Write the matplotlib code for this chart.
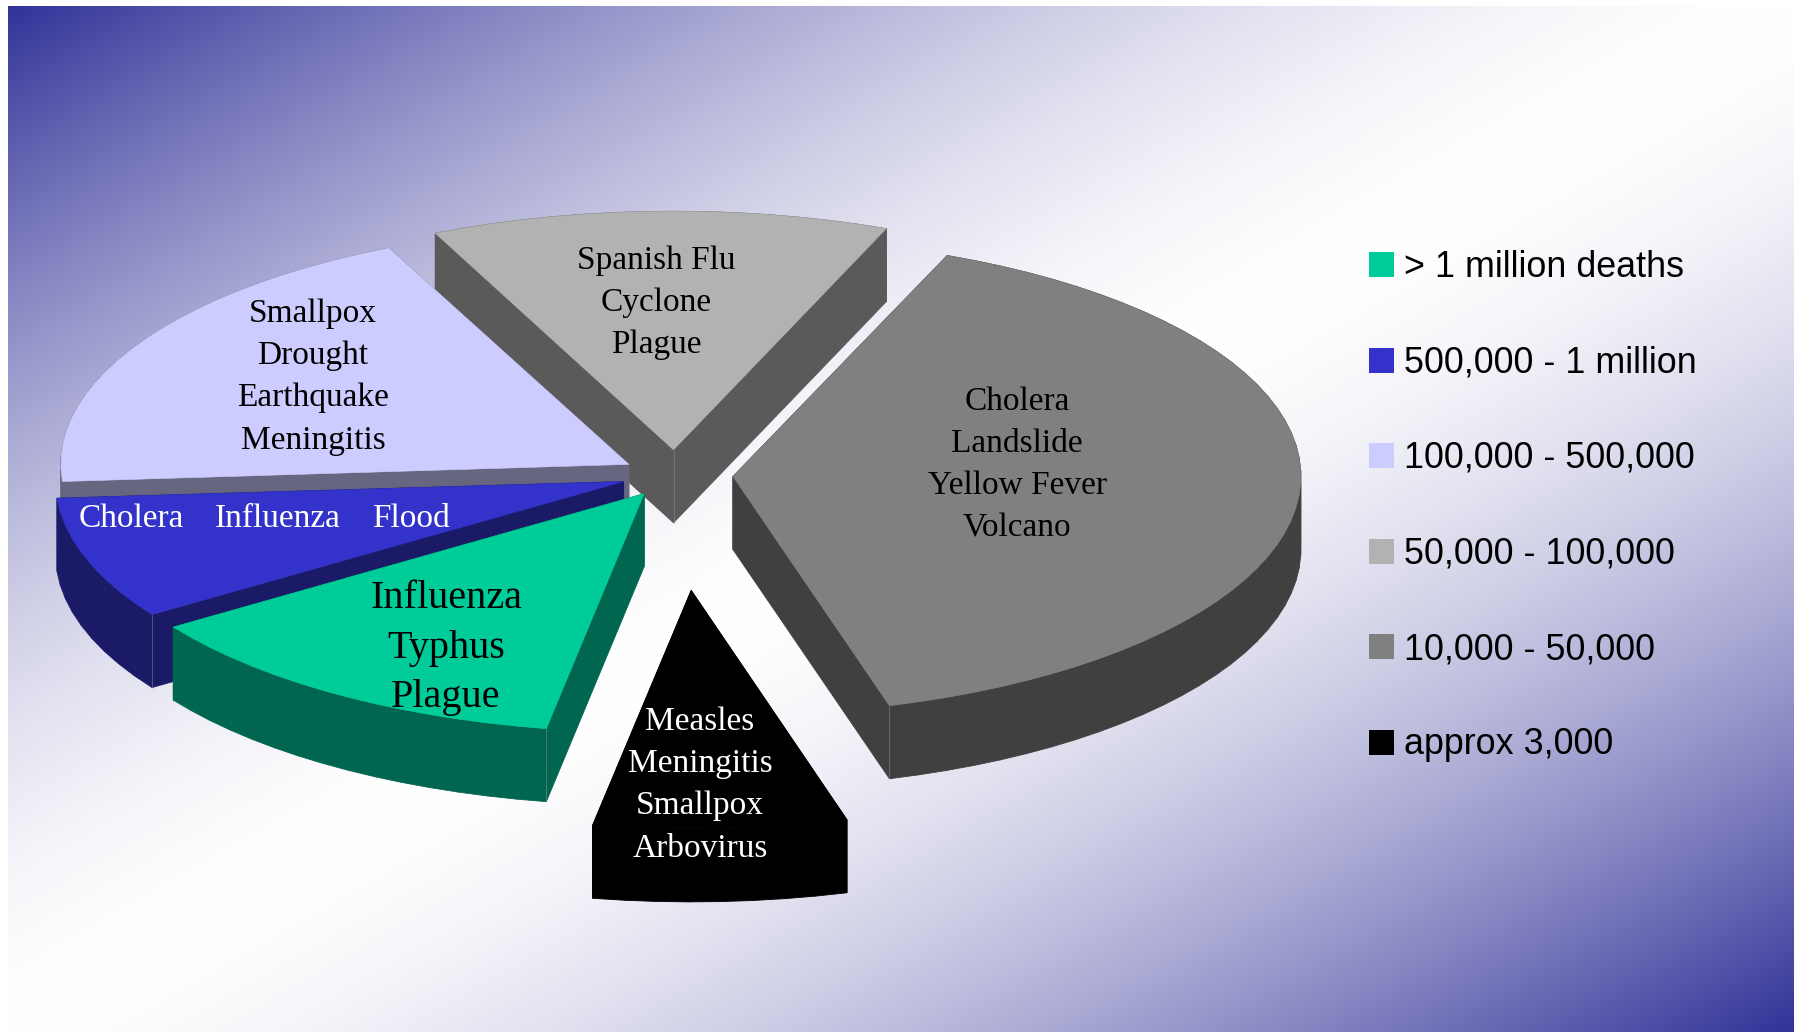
"""Exploded 3D style pie of disaster types by death toll, on a diagonal gradient."""

import matplotlib.pyplot as plt
import numpy as np
from matplotlib.patches import Polygon, Rectangle

WIDTH, HEIGHT = 1800, 1033

# share of the pie (percent), drawn back to front
slice_names = ["50,000 - 100,000", "100,000 - 500,000", "500,000 - 1 million",
               "10,000 - 50,000", "> 1 million deaths", "approx 3,000"]
slice_shares = [13.0, 19.2, 8.3, 39.4, 12.8, 7.2]
slice_explode = [60, 50, 48, 63, 53, 275]
slice_starts = [68.0, 115.0, 184.0, -74.0, 214.0, -100.0]
slice_nudge = [3, 0, -3, -2, 1, 5]

top_colors = ["#B2B2B2", "#CCCCFF", "#3333CC", "#808080", "#00CC99", "#000000"]
side_colors = ["#5A5A5A", "#666680", "#1A1A66", "#404040", "#006650", "#000000"]

legend_labels = ["> 1 million deaths", "500,000 - 1 million", "100,000 - 500,000",
                 "50,000 - 100,000", "10,000 - 50,000", "approx 3,000"]
legend_colors = ["#00CC99", "#3333CC", "#CCCCFF", "#B2B2B2", "#808080", "#000000"]

spanish_labels = ["Spanish Flu", "Cyclone", "Plague"]
smallpox_labels = ["Smallpox", "Drought", "Earthquake", "Meningitis"]
cholera_labels = ["Cholera", "Influenza", "Flood"]
gray_labels = ["Cholera", "Landslide", "Yellow Fever", "Volcano"]
green_labels = ["Influenza", "Typhus", "Plague"]
black_labels = ["Measles", "Meningitis", "Smallpox", "Arbovirus"]

CENTER_X, CENTER_Y = 672, 475
RADIUS = 568
FLATTEN = 0.42
DEPTH = 73
SERIF = ["Liberation Serif", "DejaVu Serif"]


def project(angle_deg, radius, explode, mid_deg, nudge):
    angle = np.radians(angle_deg)
    mid = np.radians(mid_deg)
    x = radius * np.cos(angle) + explode * np.cos(mid)
    y = radius * np.sin(angle) + explode * np.sin(mid)
    return CENTER_X + nudge + x, CENTER_Y - FLATTEN * y


def draw_slice(ax, start, share, explode, nudge, top, side):
    sweep = share * 3.6
    mid = start + sweep / 2
    angles = np.linspace(start, start + sweep, max(int(sweep / 3), 2) + 1)
    arc_x, arc_y = project(angles, RADIUS, explode, mid, nudge)
    apex_x, apex_y = project(0.0, 0.0, explode, mid, nudge)
    top_x = np.r_[apex_x, arc_x]
    top_y = np.r_[apex_y, arc_y]

    # walls: outer rim and both cut edges, the top face hides the back ones
    for i in range(len(top_x)):
        j = (i + 1) % len(top_x)
        wall = [(top_x[i], top_y[i]), (top_x[j], top_y[j]),
                (top_x[j], top_y[j] + DEPTH), (top_x[i], top_y[i] + DEPTH)]
        ax.add_patch(Polygon(wall, closed=True, facecolor=side, edgecolor=side, linewidth=0.6))
    ax.add_patch(Polygon(np.c_[top_x, top_y], closed=True, facecolor=top, edgecolor=top, linewidth=0.4))

    # faint seam down the front corner
    if side not in ("#000000", "#666680"):
        corners = [(apex_x, apex_y), (arc_x[0], arc_y[0]), (arc_x[-1], arc_y[-1])]
        x, y = max(corners, key=lambda corner: corner[1])
        ax.plot([x, x], [y, y + DEPTH], color="#9a9a9a", linewidth=0.5, alpha=0.6)


def draw_labels(ax, labels, x, first_y, step, size, color="black"):
    for i, label in enumerate(labels):
        ax.text(x, first_y + i * step, label, family=SERIF, fontsize=size, color=color,
                ha="center", va="center")


def main():
    fig = plt.figure(figsize=(WIDTH / 100, HEIGHT / 100), dpi=100, facecolor="white")
    ax = fig.add_axes([0, 0, 1, 1])

    # background: blue corners fading to a wide white band across the diagonal
    left, right, upper, lower = 8, 1794, 6, 1032
    xx, yy = np.meshgrid(np.linspace(0, 1, 400), np.linspace(0, 1, 300))
    fade = np.abs((xx + yy) - 1.0) ** 1.6
    blue = np.array([0x33, 0x33, 0x99]) / 255
    image = 1 - fade[..., None] * (1 - blue)
    ax.imshow(image, extent=(left, right, lower, upper), aspect="auto", interpolation="bilinear", zorder=0)
    ax.set_xlim(0, WIDTH)
    ax.set_ylim(HEIGHT, 0)
    ax.axis("off")

    for start, share, explode, nudge, top, side in zip(slice_starts, slice_shares, slice_explode,
                                                       slice_nudge, top_colors, side_colors):
        draw_slice(ax, start, share, explode, nudge, top, side)

    draw_labels(ax, spanish_labels, 656, 260.5, 42, 24)
    draw_labels(ax, smallpox_labels, 313, 313.5, 42.3, 24)
    draw_labels(ax, gray_labels, 1017, 401.5, 42.2, 24)
    draw_labels(ax, green_labels, 446, 599, 49.5, 29)
    draw_labels(ax, black_labels, 700, 721.5, 42.3, 24, color="white")
    for label, x in zip(cholera_labels, [131, 278, 411]):
        ax.text(x, 519, label, family=SERIF, fontsize=24, color="white", ha="center", va="center")

    for i, (label, color) in enumerate(zip(legend_labels, legend_colors)):
        y = 252 + i * 95.5
        ax.add_patch(Rectangle((1369, y), 25, 25, facecolor=color, edgecolor="none"))
        ax.text(1404, y + 15.5, label, family="Liberation Sans", fontsize=25.8, color="black",
                ha="left", va="center")

    fig.savefig("out.png", dpi=100)
    plt.close(fig)


if __name__ == "__main__":
    main()
